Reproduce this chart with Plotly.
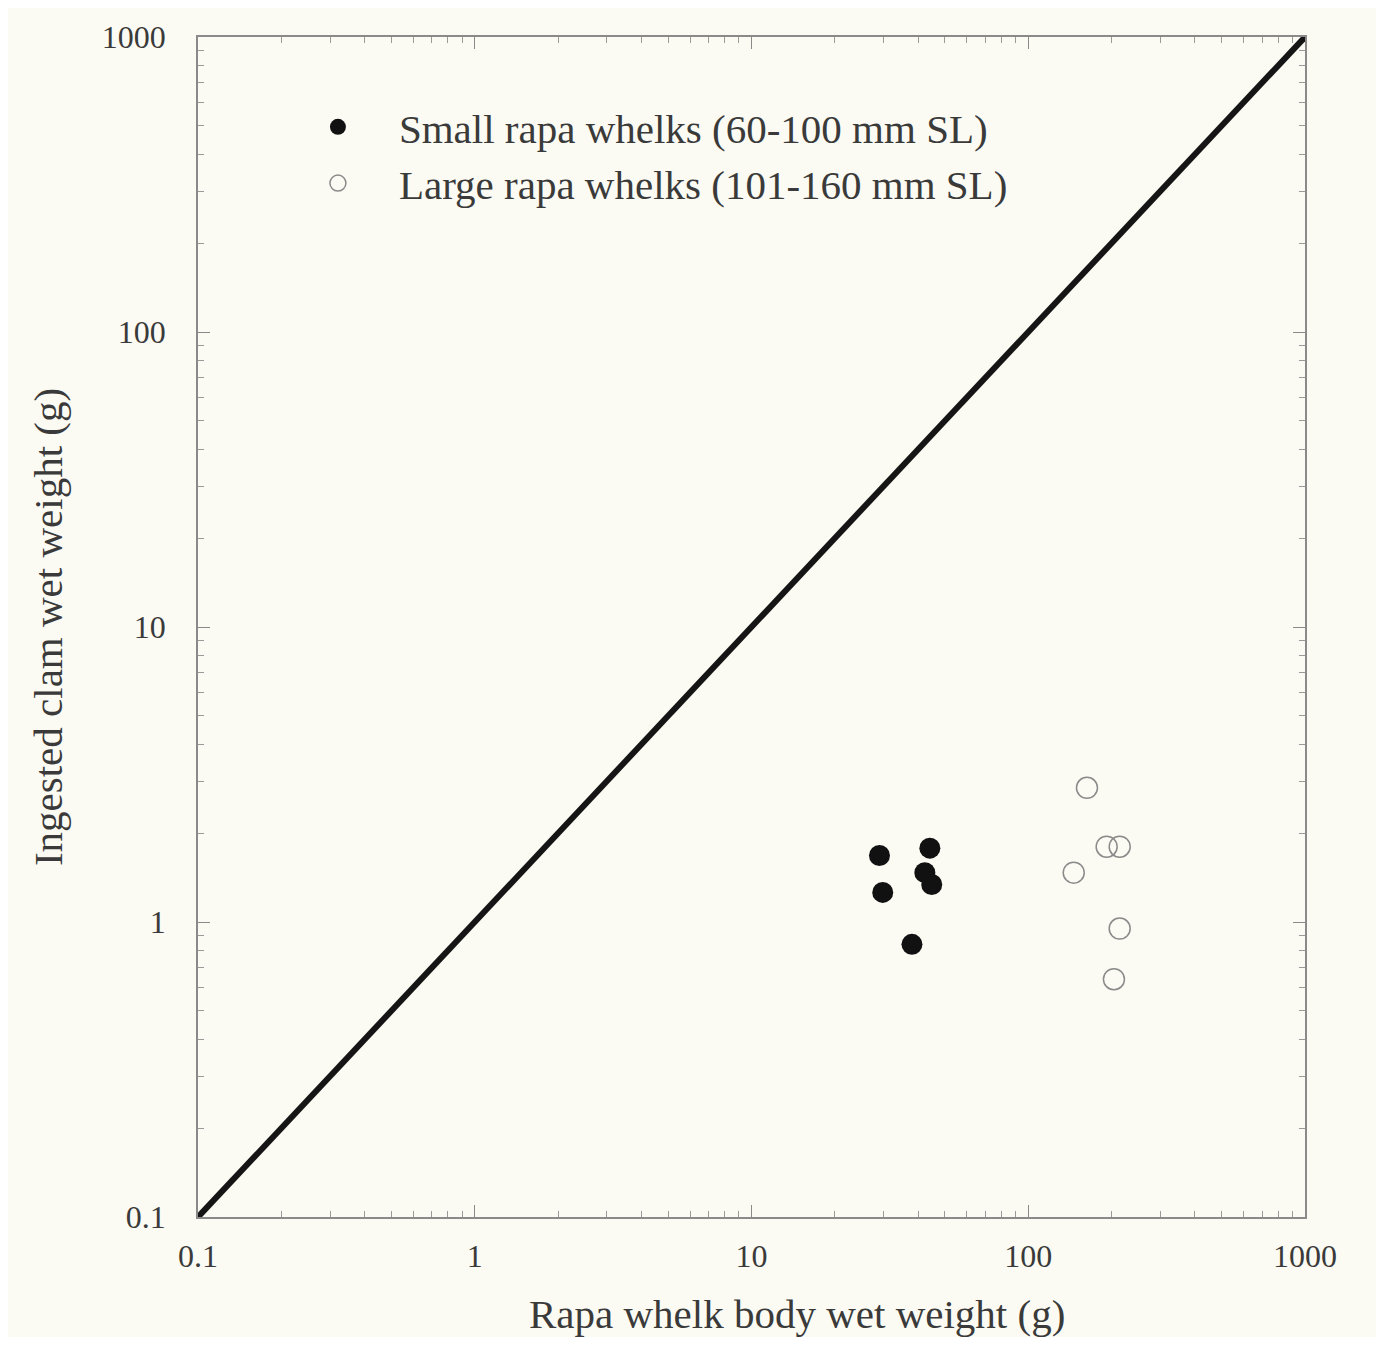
import plotly.graph_objects as go

small_x = [29.0, 44.1, 42.3, 44.8, 29.8, 38.0]
small_y = [1.68, 1.78, 1.47, 1.34, 1.26, 0.84]
large_x = [163, 192, 214, 146, 214, 204]
large_y = [2.85, 1.80, 1.80, 1.47, 0.95, 0.64]
line_x = [0.1, 1000]
line_y = [0.1, 1000]
tick_vals = [0.1, 1, 10, 100, 1000]
tick_text = ["0.1", "1", "10", "100", "1000"]

FAM = "Liberation Serif, Times New Roman, serif"
tick_font = dict(family=FAM, size=32, color="#3a3a3a")
title_font = dict(family=FAM, size=41, color="#3a3a3a")
legend_font = dict(family=FAM, size=41, color="#3a3a3a")

fig = go.Figure()
fig.add_trace(go.Scatter(x=line_x, y=line_y, mode="lines",
                         line=dict(color="#151515", width=6), showlegend=False))
fig.add_trace(go.Scatter(x=small_x, y=small_y, mode="markers", name="Small rapa whelks (60-100 mm SL)",
                         marker=dict(symbol="circle", size=21, color="#111111")))
fig.add_trace(go.Scatter(x=large_x, y=large_y, mode="markers", name="Large rapa whelks (101-160 mm SL)",
                         marker=dict(symbol="circle-open", size=21, color="#8a8a8a", line=dict(width=1.5))))

axis_common = dict(type="log", showgrid=False, zeroline=False, showline=True, linecolor="#8a8a8a",
                   linewidth=1.5, mirror="allticks", ticks="inside", ticklen=12, tickwidth=1.2,
                   tickcolor="#8a8a8a", tickvals=tick_vals, ticktext=tick_text,
                   tickfont=tick_font, range=[-1, 3],
                   minor=dict(ticks="inside", ticklen=6, tickcolor="#9a9a9a", dtick="D1", showgrid=False))

fig.update_xaxes(**axis_common, ticklabelstandoff=10)
fig.update_yaxes(**axis_common, ticklabelstandoff=24,
                 title=dict(text="Ingested clam wet weight (g)", font=title_font, standoff=26))

fig.add_annotation(text="Rapa whelk body wet weight (g)", xref="paper", yref="paper",
                   x=0.5415, y=-0.0825, xanchor="center", yanchor="middle",
                   showarrow=False, font=title_font)

fig.update_layout(
    width=1368, height=1329,
    margin=dict(l=190, r=71, t=29, b=120),
    paper_bgcolor="#fbfbf3", plot_bgcolor="#fbfbf3",
    legend=dict(x=0.0713, y=0.952, xanchor="left", yanchor="top", bgcolor="rgba(0,0,0,0)",
                font=legend_font, itemsizing="trace", itemwidth=112),
)

fig.write_html("out.html")
